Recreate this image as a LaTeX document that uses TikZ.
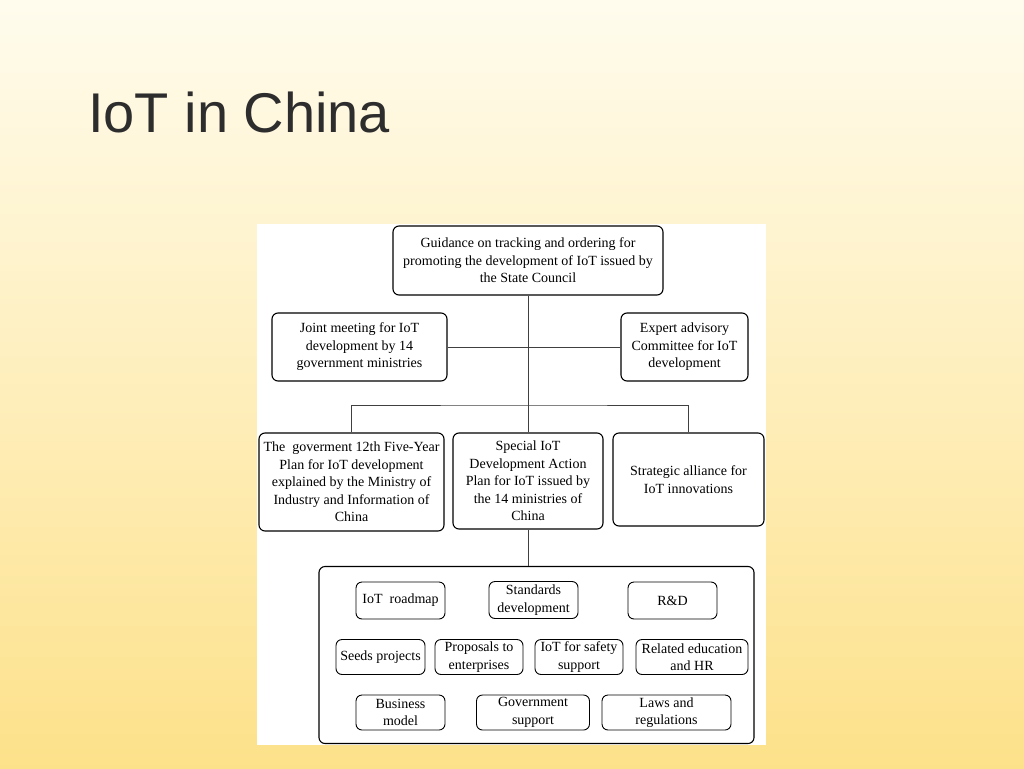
\documentclass[tikz,border=0pt]{standalone}
\usepackage{fontspec}
\setmainfont{Liberation Serif}
\newfontfamily\titlefont{Liberation Sans}
\definecolor{slidetop}{RGB}{255,252,238}
\definecolor{slidebottom}{RGB}{253,225,138}
\definecolor{titlegray}{RGB}{45,45,45}

\begin{document}
\begin{tikzpicture}[x=1pt,y=-1pt,font=\fontsize{14}{17.5}\selectfont,
  orgbox/.style={shape=rectangle,draw,rounded corners=6pt,line width=1.1pt,align=center,inner sep=0pt},
  taskbox/.style={orgbox,line width=0.9pt,minimum height=37pt},
  link/.style={draw=black!75,line width=0.8pt}]
\useasboundingbox (0,0) rectangle (1024,768);
\shade[top color=slidetop,bottom color=slidebottom] (0,0) rectangle (1024,768);
\fill[white] (257,224) rectangle (766,745);
\node(title)[anchor=base west,inner sep=0pt,text=titlegray,font=\titlefont\fontsize{56}{60}\selectfont] at (88,132){IoT in China};
% upper levels
\node(council)[orgbox,minimum width=270pt,minimum height=69pt] at (528,260.5){Guidance on tracking and ordering for\\ promoting the development of IoT issued by\\ the State Council};
\node(joint)[orgbox,minimum width=175pt,minimum height=68pt] at (359.5,347){Joint meeting for IoT\\ development by 14\\ government ministries};
\node(expert)[orgbox,minimum width=127pt,minimum height=68pt] at (684.5,347){Expert\ advisory\\ Committee for IoT\\ development};
\node(plan)[orgbox,minimum width=185pt,minimum height=98pt] at (351.5,482){The\ \ goverment 12th Five-Year\\ Plan for IoT\ development\\ explained by the Ministry of\\ Industry and Information of\\ China};
\node(action)[orgbox,minimum width=150pt,minimum height=96pt] at (528,481){Special IoT\\ Development Action\\ Plan for IoT issued by\\ the 14 ministries of\\ China};
\node(alliance)[orgbox,minimum width=151pt,minimum height=93pt] at (688.5,479.5){Strategic\ alliance for\\ IoT innovations};
% task panel
\node(tasks)[orgbox,minimum width=435pt,minimum height=177pt] at (536.5,655){};
\node(roadmap)[taskbox,minimum width=89pt] at (400.5,600.5){IoT\ \ roadmap};
\node(standards)[taskbox,minimum width=89pt] at (533.5,600){Standards\\ development};
\node(rnd)[taskbox,minimum width=89pt] at (672.5,600.5){R\&D};
\node(seeds)[taskbox,minimum width=89pt,minimum height=35pt] at (380.5,657){Seeds projects};
\node(proposals)[taskbox,minimum width=88pt,minimum height=35pt] at (479,657){Proposals to\\ enterprises};
\node(safety)[taskbox,minimum width=88pt,minimum height=35pt] at (579,657){IoT for\ safety\\ support};
\node(education)[taskbox,minimum width=112pt,minimum height=35pt] at (692,657){Related education\\ and HR};
\node(business)[taskbox,minimum width=89pt,minimum height=35pt] at (400.5,712.5){Business\\ model};
\node(govsupport)[taskbox,minimum width=113pt,minimum height=35pt] at (533,712.5){Government\\ support};
\node(laws)[taskbox,minimum width=129pt,minimum height=35pt] at (666.5,712.5){Laws and\\ regulations};
% connectors
\coordinate(bus) at (528,405);
\draw[link] (council) -- (action);
\draw[link] (joint) -- (expert);
\draw[link] (plan.north) |- (bus) -| (alliance.north);
\draw[link] (action.south) -- (action.south |- tasks.north);
\end{tikzpicture}
\end{document}
